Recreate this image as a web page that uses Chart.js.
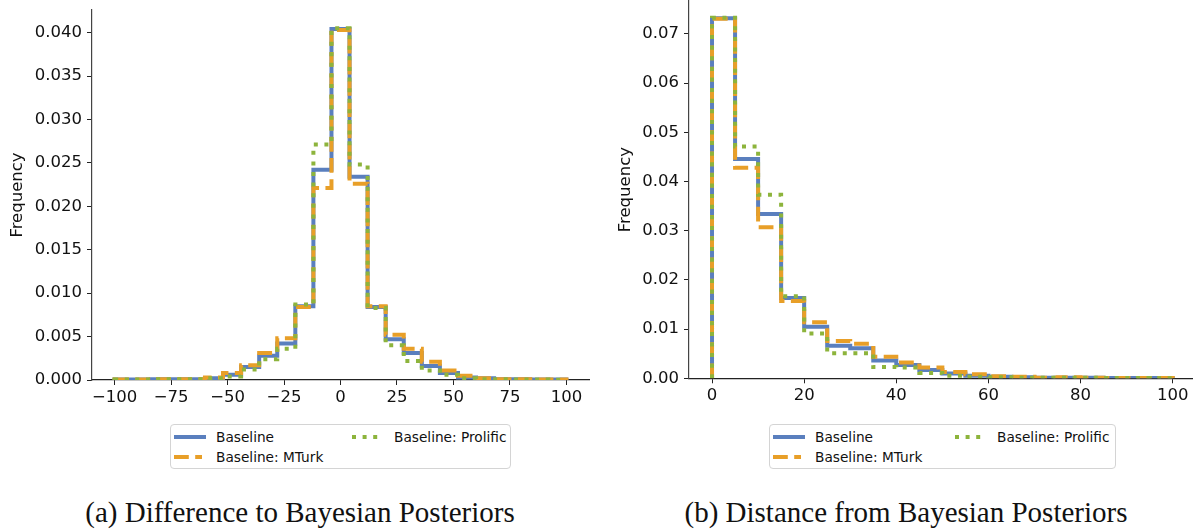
<!DOCTYPE html>
<html><head><meta charset="utf-8">
<script src="https://cdn.jsdelivr.net/npm/chart.js@4.4.1/dist/chart.umd.min.js"></script>
<style>
html,body{margin:0;padding:0;background:#fff;width:1193px;height:531px;overflow:hidden;position:relative}
.cv{position:absolute}
.legend{position:absolute;border:1px solid #d4d4d4;border-radius:4px;background:#fff;box-sizing:border-box}
.item{position:absolute;height:20px;display:flex;align-items:center;white-space:nowrap;font-family:"DejaVu Sans";font-size:13.7px;color:#111}
.item svg{margin-right:10px}
.caption{position:absolute;font-family:"Liberation Serif",serif;font-size:29px;line-height:30px;color:#111;white-space:nowrap;transform:translateX(-50%)}
</style>
</head><body>
<div class="cv" style="left:0;top:0;width:600px;height:410px"><canvas id="cA"></canvas></div>
<div class="cv" style="left:600px;top:0;width:600px;height:410px"><canvas id="cB"></canvas></div>
<div id="legA" class="legend" style="left:170px;top:424px;width:341px;height:45px"></div>
<div id="legB" class="legend" style="left:769px;top:424px;width:347px;height:45px"></div>
<div class="caption" style="left:300px;top:497px">(a) Difference to Bayesian Posteriors</div>
<div class="caption" style="left:906px;top:497px">(b) Distance from Bayesian Posteriors</div>
<script>
// ---- data ----
const seriesNames = ["Baseline", "Baseline: MTurk", "Baseline: Prolific"];

// Panel (a): difference to Bayesian posteriors
const edgesA = [-100,-92,-84,-76,-68,-60,-52,-44,-36,-28,-20,-12,-4,4,12,20,28,36,44,52,60,68,76,84,92,100];
const baselineA = [0.00005,0.00005,0.0001,0.0001,0.0001,0.0002,0.0006,0.0015,0.0028,0.0042,0.0085,0.0242,0.0404,0.0234,0.0084,0.0047,0.0031,0.0016,0.0008,0.0003,0.0002,0.0001,0.0001,0.00005,0.00005];
const mturkA    = [0.00005,0.00005,0.0001,0.0001,0.0001,0.0003,0.0008,0.0017,0.0031,0.0048,0.0084,0.0221,0.0403,0.0226,0.0085,0.0052,0.0036,0.0021,0.0011,0.0005,0.0002,0.0001,0.0001,0.00005,0.00005];
const prolificA = [0.00005,0.00005,0.0001,0.0001,0.0001,0.0002,0.0004,0.0012,0.0024,0.0036,0.0087,0.0271,0.0405,0.0248,0.0083,0.0040,0.0022,0.0011,0.0006,0.0002,0.0001,0.0001,0.00005,0.00005,0.00003];
const xTicksA = [-100,-75,-50,-25,0,25,50,75,100];
const yTicksA = [0,0.005,0.010,0.015,0.020,0.025,0.030,0.035,0.040];

// Panel (b): distance from Bayesian posteriors
const edgesB = [0,5,10,15,20,25,30,35,40,45,50,55,60,65,70,75,80,85,90,95,100];
const baselineB = [0.0732,0.0446,0.0334,0.0163,0.0105,0.0066,0.0061,0.0036,0.0027,0.0017,0.0010,0.0005,0.0003,0.0002,0.0001,0.0001,0.0001,0.00005,0.00005,0.00005];
const mturkB    = [0.0731,0.0428,0.0307,0.0157,0.0114,0.0076,0.0070,0.0044,0.0032,0.0022,0.0013,0.0008,0.0004,0.0003,0.0001,0.0002,0.0001,0.00005,0.00005,0.00005];
const prolificB = [0.0733,0.0471,0.0373,0.0167,0.0091,0.0051,0.0051,0.0023,0.0022,0.0011,0.0005,0.0003,0.0002,0.0001,0.0001,0.0001,0.0001,0.00005,0.00005,0.00003];
const xTicksB = [0,20,40,60,80,100];
const yTicksB = [0,0.01,0.02,0.03,0.04,0.05,0.06,0.07];

// ---- styles ----
const colors = ["#5a7fbe", "#e89f28", "#8db43c"];
const dashes = [[], [14.8, 6.4], [4, 6.6]];
const LW = 4;

function stepPoints(edges, vals){
  const pts = [{x: edges[0], y: 0}];
  vals.forEach((v, i) => { pts.push({x: edges[i], y: v}); pts.push({x: edges[i+1], y: v}); });
  pts.push({x: edges[edges.length-1], y: 0});
  return pts;
}
const minus = s => String(s).replace('-', '\u2212');
const tickFont = {family: "DejaVu Sans", size: 16.5};

function makeChart(id, edges, seriesVals, xTicks, yTicks, xr, ymax, ydec, yw, xh, pad){
  const datasets = seriesVals.map((vals, i) => ({
    label: seriesNames[i],
    data: stepPoints(edges, vals),
    borderColor: colors[i],
    borderWidth: LW,
    borderDash: dashes[i],
    borderCapStyle: 'butt',
    borderJoinStyle: 'miter',
    pointRadius: 0,
    fill: false,
    tension: 0,
    order: 3 - i
  }));
  return new Chart(document.getElementById(id), {
    type: 'line',
    data: {datasets},
    options: {
      responsive: true, maintainAspectRatio: false, animation: false,
      layout: {padding: pad},
      plugins: {legend: {display: false}, tooltip: {enabled: false}},
      scales: {
        x: {
          type: 'linear', min: xr[0], max: xr[1],
          afterBuildTicks: s => { s.ticks = xTicks.map(v => ({value: v})); },
          afterFit: s => { s.height = xh; s.paddingLeft = 0; s.paddingRight = 0; s.paddingTop = 0; s.paddingBottom = 0; },
          ticks: {font: tickFont, color: '#111', padding: 3, maxRotation: 0, autoSkip: false, callback: v => minus(v)},
          grid: {drawOnChartArea: false, drawTicks: true, tickLength: 5, color: '#222', tickWidth: 1},
          border: {display: true, color: '#222', width: 1.2}
        },
        y: {
          type: 'linear', min: 0, max: ymax,
          afterBuildTicks: s => { s.ticks = yTicks.map(v => ({value: v})); },
          afterFit: s => { s.width = yw; s.paddingLeft = 0; s.paddingRight = 0; s.paddingTop = 0; s.paddingBottom = 0; },
          ticks: {font: tickFont, color: '#111', padding: 5, autoSkip: false, callback: v => Number(v).toFixed(ydec)},
          grid: {drawOnChartArea: false, drawTicks: true, tickLength: 5, color: '#222', tickWidth: 1},
          border: {display: true, color: '#444', width: 1.2},
          title: {display: true, text: 'Frequency', font: tickFont, color: '#111', padding: {top: pad.titleTop, bottom: 0}}
        }
      }
    }
  });
}

makeChart('cA', edgesA, [baselineA, mturkA, prolificA], xTicksA, yTicksA, [-110, 110], 0.0426, 3, 92, 30,
  {top: 10, left: 0, right: 11, bottom: 0, titleTop: 8});
makeChart('cB', edgesB, [baselineB, mturkB, prolificB], xTicksB, yTicksB, [-5, 105], 0.0767, 2, 89, 31.7,
  {top: 1, left: 0, right: 4.3, bottom: 0, titleTop: 16});

// ---- legends ----
function handleSVG(i){
  const cap = i === 0 ? 'square' : 'butt';
  const x1 = i === 0 ? 2 : 0, x2 = i === 0 ? 30 : 28;
  return `<svg width="32" height="8"><line x1="${x1}" y1="4" x2="${x2}" y2="4" stroke="${colors[i]}" stroke-width="${LW}" stroke-linecap="${cap}" stroke-dasharray="${dashes[i].join(',') || 'none'}"/></svg>`;
}
function buildLegend(id, colX){
  const el = document.getElementById(id);
  const pos = [[colX[0], 2], [colX[0], 22], [colX[1], 2]];
  seriesNames.forEach((n, i) => {
    const d = document.createElement('div');
    d.className = 'item';
    d.style.left = pos[i][0] + 'px';
    d.style.top = pos[i][1] + 'px';
    d.innerHTML = handleSVG(i) + '<span>' + n + '</span>';
    el.appendChild(d);
  });
}
buildLegend('legA', [3, 181]);
buildLegend('legB', [3, 185]);
</script>
</body></html>
